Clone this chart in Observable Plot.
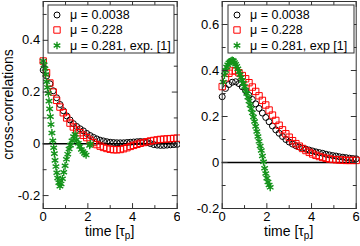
<!DOCTYPE html>
<html><head><meta charset="utf-8">
<script src="https://cdn.jsdelivr.net/npm/d3@7"></script>
<script src="https://cdn.jsdelivr.net/npm/@observablehq/plot@0.6"></script>
<style>
body{margin:0;background:#fff;}
#wrap{display:flex;width:360px;height:246px;overflow:hidden;}
#wrap svg{font-family:"Liberation Sans",Arial,sans-serif;display:block;}
</style></head><body><div id="wrap"></div>
<script>
// ---- data ----
const tGrid = [0,0.15,0.3,0.45,0.6,0.75,0.9,1.05,1.2,1.35,1.5,1.65,1.8,1.95,2.1,2.25,2.4,2.55,2.7,2.85,3.0,3.15,3.3,3.45,3.6,3.75,3.9,4.05,4.2,4.35,4.5,4.65,4.8,4.95,5.1,5.25,5.4,5.55,5.7,5.85,6.0];

const leftBlack = [0.285,0.262,0.232,0.205,0.178,0.152,0.128,0.108,0.092,0.078,0.067,0.058,0.05,0.04,0.032,0.025,0.019,0.014,0.011,0.008,0.006,0.005,0.004,0.004,0.004,0.005,0.006,0.007,0.008,0.009,0.008,0.005,0.001,-0.003,-0.005,-0.006,-0.006,-0.005,-0.004,-0.003,-0.002];
const leftRed = [0.32,0.275,0.235,0.2,0.168,0.142,0.12,0.1,0.08,0.065,0.053,0.043,0.033,0.024,0.014,0.005,-0.003,-0.009,-0.014,-0.018,-0.021,-0.023,-0.023,-0.022,-0.019,-0.015,-0.01,-0.006,-0.002,0.002,0.005,0.008,0.011,0.013,0.015,0.017,0.018,0.019,0.02,0.021,0.022];
const leftGreenT = [0,0.04,0.08,0.11,0.15,0.19,0.23,0.26,0.29,0.32,0.35,0.39,0.43,0.47,0.5,0.53,0.57,0.61,0.65,0.7,0.75,0.8,0.86,0.92,0.98,1.04,1.1,1.16,1.22,1.29,1.36,1.43,1.5,1.57,1.64,1.71,1.78,1.85,1.92,2.08,2.12];
const leftGreenV = [0.32,0.305,0.29,0.268,0.24,0.218,0.195,0.165,0.135,0.105,0.075,0.042,0.012,-0.015,-0.038,-0.064,-0.088,-0.112,-0.132,-0.15,-0.164,-0.155,-0.135,-0.11,-0.085,-0.06,-0.04,-0.02,-0.005,0.012,0.028,0.037,0.016,0.002,-0.01,-0.022,-0.03,-0.037,-0.043,-0.006,0.0];

const rightBlack = [0.286,0.322,0.339,0.349,0.351,0.343,0.329,0.312,0.292,0.274,0.255,0.235,0.215,0.196,0.177,0.159,0.142,0.127,0.113,0.1,0.089,0.08,0.073,0.067,0.062,0.058,0.054,0.05,0.046,0.043,0.04,0.036,0.033,0.03,0.028,0.025,0.023,0.021,0.019,0.017,0.016];
const rightRed = [0.33,0.368,0.388,0.398,0.399,0.39,0.378,0.364,0.347,0.328,0.309,0.29,0.27,0.25,0.228,0.206,0.183,0.162,0.142,0.125,0.11,0.095,0.082,0.071,0.061,0.052,0.044,0.037,0.031,0.026,0.022,0.018,0.015,0.013,0.012,0.011,0.01,0.009,0.009,0.009,0.009];
const rightGreenT = [0.05,0.1,0.15,0.2,0.25,0.3,0.35,0.4,0.45,0.5,0.55,0.6,0.65,0.7,0.75,0.8,0.85,0.9,0.95,1.0,1.05,1.1,1.15,1.2,1.25,1.3,1.35,1.4,1.45,1.5,1.55,1.6,1.65,1.7,1.75,1.8,1.85,1.9,1.95,2.0,2.05,2.1,2.15];
const rightGreenV = [0.35,0.38,0.4,0.415,0.425,0.433,0.438,0.442,0.444,0.442,0.435,0.427,0.418,0.407,0.395,0.382,0.37,0.357,0.344,0.33,0.315,0.3,0.284,0.267,0.25,0.233,0.216,0.198,0.178,0.157,0.135,0.113,0.092,0.072,0.052,0.028,0.003,-0.025,-0.048,-0.068,-0.085,-0.098,-0.108];

const xTicks = [0,2,4,6];
const xMinor = [1,3,5];
const leftYTicks = [-0.2,0,0.2,0.4];
const rightYTicks = [-0.2,0,0.2,0.4,0.6];
const yMinorTicks = [-0.1,0.1,0.3,0.5];
const leftLegend = ["\u03bc = 0.0038","\u03bc = 0.228","\u03bc = 0.281, exp. [1]"];
const rightLegend = ["\u03bc = 0.0038","\u03bc = 0.228","\u03bc = 0.281, exp [1]"];
const yLabel = "cross-correlations";

const BLACK = "#000", RED = "#ff0000", GREEN = "#13931a", FRAME = "#333";

const zip = (ts, vs) => ts.map((t, i) => ({t, v: vs[i]}));
const tickShape = {draw(c, l) { c.moveTo(0, 0); c.lineTo(0, -l); }};

function panel({ml, mr, yDomain, yTicks, black, red, green, legend, showYLabel}) {
  const W = 180, H = 246, mt = 1, mb = 38;
  const [y0, y1] = yDomain;
  const ticks = (data, axis, side, len) => Plot.vector(data, {
    x: axis === "x" ? d => d : () => (side === "left" ? 0 : 6),
    y: axis === "y" ? d => d : () => (side === "bottom" ? y0 : y1),
    length: len, rotate: {bottom: 0, top: 180, left: 90, right: 270}[side],
    anchor: "start", shape: tickShape, stroke: FRAME, strokeWidth: 1
  });
  const svg = Plot.plot({
    width: W, height: H, marginLeft: ml, marginRight: mr, marginTop: mt, marginBottom: mb,
    style: {fontSize: "13px", fontFamily: "'Liberation Sans', Arial, sans-serif", color: "#000", background: "#fff"},
    x: {domain: [0, 6]},
    y: {domain: yDomain},
    marks: [
      Plot.ruleY([0], {stroke: BLACK, strokeWidth: 1.5}),
      Plot.dot(black, {x: "t", y: "v", symbol: "circle", r: 3, stroke: BLACK, fill: "none", strokeWidth: 1}),
      Plot.dot(red, {x: "t", y: "v", symbol: "square", r: 3.6, stroke: RED, fill: "none", strokeWidth: 1}),
      Plot.dot(green, {x: "t", y: "v", symbol: "asterisk", r: 3.6, stroke: GREEN, strokeWidth: 1.4}),
      Plot.frame({stroke: FRAME, strokeWidth: 1}),
      ticks(xTicks, "x", "bottom", 5), ticks(xMinor, "x", "bottom", 3),
      ticks(xTicks, "x", "top", 5), ticks(xMinor, "x", "top", 3),
      ticks(yTicks, "y", "left", 5), ticks(yMinorTicks, "y", "left", 3),
      ticks(yTicks, "y", "right", 5), ticks(yMinorTicks, "y", "right", 3),
      Plot.axisX({ticks: xTicks, tickSize: 0, tickPadding: 3, label: null, tickFormat: d => String(d)}),
      Plot.axisY({ticks: yTicks, tickSize: 0, tickPadding: 3, label: null, tickFormat: d => String(d)})
    ]
  });
  const s = d3.select(svg);
  // x label
  const cx = (ml + (W - mr)) / 2;
  const xl = s.append("text").attr("x", cx).attr("y", 236).attr("text-anchor", "middle")
    .attr("font-size", 14).attr("fill", "#000");
  xl.append("tspan").text("time [\u03c4");
  xl.append("tspan").attr("font-size", 10).attr("dy", 3).text("p");
  xl.append("tspan").attr("dy", -3).text("]");
  if (showYLabel) {
    s.append("text").attr("transform", `translate(13,${(mt + H - mb) / 2}) rotate(-90)`)
      .attr("text-anchor", "middle").attr("font-size", 14).attr("fill", "#000").text(yLabel);
  }
  // legend
  const g = s.append("g").attr("text-anchor", "start");
  g.append("rect").attr("x", 48).attr("y", 5).attr("width", 126).attr("height", 48)
    .attr("fill", "#fff").attr("stroke", FRAME).attr("stroke-width", 1);
  const rows = [15, 30, 45.5];
  const sym = [d3.symbolCircle, d3.symbolSquare, d3.symbolAsterisk];
  const col = [BLACK, RED, GREEN];
  const rr = [3, 3.6, 3.6];
  rows.forEach((y, i) => {
    g.append("path").attr("transform", `translate(57,${y})`)
      .attr("d", d3.symbol(sym[i], Math.PI * rr[i] * rr[i])())
      .attr("fill", "none").attr("stroke", col[i]).attr("stroke-width", i === 2 ? 1.4 : 1);
    g.append("text").attr("x", 70).attr("y", y).attr("dy", "0.35em").attr("text-anchor", "start")
      .attr("font-size", 12.5).attr("fill", "#000").text(legend[i]);
  });
  return svg;
}

const wrap = document.getElementById("wrap");
wrap.append(panel({ml: 42.7, mr: 3.3, yDomain: [-0.25, 0.55], yTicks: leftYTicks,
  black: zip(tGrid, leftBlack), red: zip(tGrid, leftRed), green: zip(leftGreenT, leftGreenV),
  legend: leftLegend, showYLabel: true}));
wrap.append(panel({ml: 41.7, mr: 4.3, yDomain: [-0.2, 0.7], yTicks: rightYTicks,
  black: zip(tGrid, rightBlack), red: zip(tGrid, rightRed), green: zip(rightGreenT, rightGreenV),
  legend: rightLegend, showYLabel: false}));
</script></body></html>
